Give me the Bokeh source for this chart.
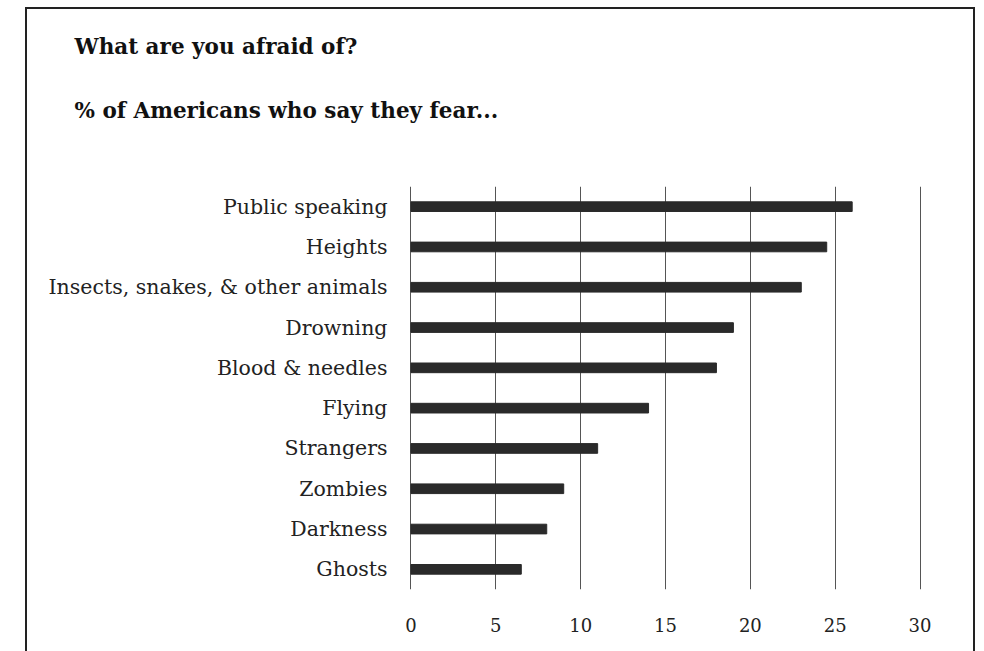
from bokeh.plotting import figure
from bokeh.models import Range1d, FactorRange, Title, FixedTicker
from bokeh.embed import file_html
from bokeh.resources import INLINE

categories = ["Public speaking", "Heights", "Insects, snakes, & other animals",
              "Drowning", "Blood & needles", "Flying", "Strangers", "Zombies",
              "Darkness", "Ghosts"]
values = [26.0, 24.5, 23.0, 19.0, 18.0, 14.0, 11.0, 9.0, 8.0, 6.5]
x_ticks = [0, 5, 10, 15, 20, 25, 30]
title_text = "What are you afraid of?"
subtitle_text = "% of Americans who say they fear..."

FONT = "DejaVu Serif"

p = figure(width=950, height=644, output_backend="svg", toolbar_location=None,
           y_range=FactorRange(factors=list(reversed(categories)), range_padding=0),
           x_range=Range1d(-0.5, 31.5),
           min_border_left=375, min_border_right=32, min_border_top=177,
           min_border_bottom=64)
p.margin = (7, 0, 0, 25)
p.styles = {"border-top": "2px solid #222", "border-left": "2px solid #222",
            "border-right": "2px solid #222"}
p.outline_line_color = None
p.background_fill_color = "white"
p.border_fill_color = "white"

p.hbar(y=categories, right=values, left=0, height=0.24, color="#2a2a2a")

p.xaxis.ticker = FixedTicker(ticks=x_ticks)
p.xaxis.axis_line_color = None
p.xaxis.major_tick_line_color = None
p.xaxis.minor_tick_line_color = None
p.xaxis.major_label_standoff = 22
p.xaxis.major_label_text_font = FONT
p.xaxis.major_label_text_font_size = "18px"
p.xaxis.major_label_text_color = "#222"

p.yaxis.axis_line_color = None
p.yaxis.major_tick_line_color = None
p.yaxis.minor_tick_line_color = None
p.yaxis.major_label_standoff = 9
p.yaxis.major_label_text_font = FONT
p.yaxis.major_label_text_font_size = "20.5px"
p.yaxis.major_label_text_color = "#222"

p.ygrid.grid_line_color = None
p.xgrid.grid_line_color = "#555"
p.xgrid.grid_line_width = 1

p.title.text = title_text
p.title.align = "left"
p.title.offset = -328
p.title.standoff = -54
p.title.text_font = FONT
p.title.text_font_style = "bold"
p.title.text_font_size = "21.5px"
p.title.text_color = "#111"

p.add_layout(Title(text=subtitle_text, align="left", offset=-328, standoff=128,
                   text_font=FONT, text_font_style="bold", text_font_size="21.5px",
                   text_color="#111"), "above")

open("out.html", "w").write(file_html(p, INLINE))
